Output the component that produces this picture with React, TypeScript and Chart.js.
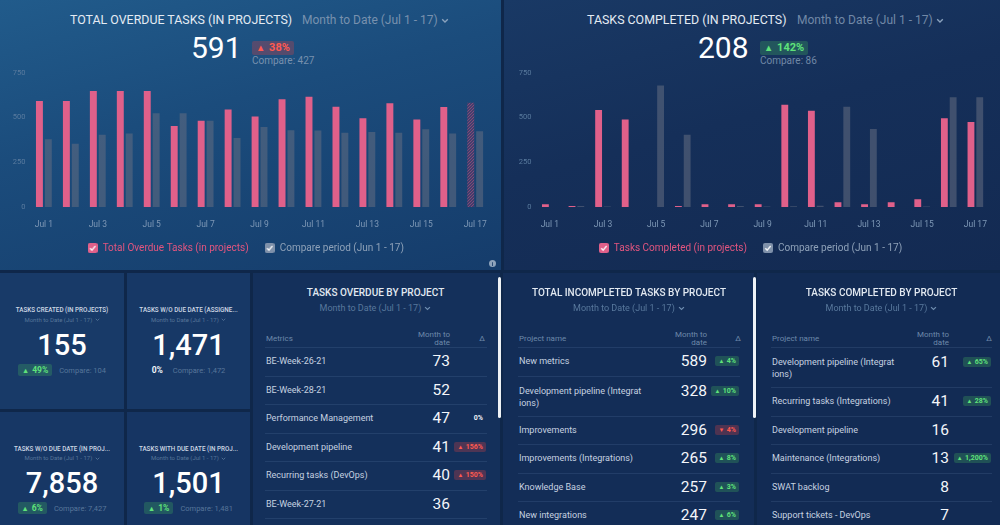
import React, { useEffect, useRef } from "react";
import { Chart, registerables } from "chart.js";

Chart.register(...registerables);

// ---------- data ----------
const days = ["Jul 1", "Jul 2", "Jul 3", "Jul 4", "Jul 5", "Jul 6", "Jul 7", "Jul 8", "Jul 9", "Jul 10", "Jul 11", "Jul 12", "Jul 13", "Jul 14", "Jul 15", "Jul 16", "Jul 17"];
const yTickValues = [0, 250, 500, 750];

const overdueCurrent = [592, 592, 648, 648, 648, 453, 481, 545, 506, 602, 615, 560, 496, 579, 489, 558, 582];
const overdueCompare = [378, 353, 404, 410, 523, 523, 481, 385, 447, 429, 427, 415, 419, 414, 434, 410, 423];
const completedCurrent = [15, 5, 541, 489, 0, 5, 15, 15, 15, 571, 537, 26, 15, 26, 43, 496, 475];
const completedCompare = [0, 5, 3, 0, 678, 404, 0, 5, 3, 4, 7, 560, 436, 0, 3, 613, 613];

const kpiTitles = ["TASKS CREATED (IN PROJECTS)", "TASKS W/O DUE DATE (ASSIGNE...", "TASKS W/O DUE DATE (IN PROJ...", "TASKS WITH DUE DATE (IN PROJ..."];
const kpiValues = ["155", "1,471", "7,858", "1,501"];
const kpiDeltas = [49, 0, 6, 1];
const kpiCompares = ["104", "1,472", "7,427", "1,481"];

const overdueProjectNames = ["BE-Week-26-21", "BE-Week-28-21", "Performance Management", "Development pipeline", "Recurring tasks (DevOps)", "BE-Week-27-21"];
const overdueProjectValues = [73, 52, 47, 41, 40, 36];
const overdueProjectDeltas: (number | null)[] = [null, null, 0, 156, 150, null];

const incompleteProjectNames = ["New metrics", "Development pipeline (Integrat\nions)", "Improvements", "Improvements (Integrations)", "Knowledge Base", "New integrations"];
const incompleteProjectValues = [589, 328, 296, 265, 257, 247];
const incompleteProjectDeltas: (number | null)[] = [4, 10, -4, 8, 3, 6];

const completedProjectNames = ["Development pipeline (Integrat\nions)", "Recurring tasks (Integrations)", "Development pipeline", "Maintenance (Integrations)", "SWAT backlog", "Support tickets - DevOps"];
const completedProjectValues = [61, 41, 16, 13, 8, 7];
const completedProjectDeltas: (number | null)[] = [65, 28, null, 1200, null, null];

// ---------- helpers ----------
const FONT = "Roboto, 'Noto Sans', sans-serif";
const PINK = "#e0608a";

function checkBox(color: string) {
  const c = document.createElement("canvas");
  c.width = 10;
  c.height = 10;
  const g = c.getContext("2d")!;
  g.fillStyle = color;
  g.beginPath();
  (g as any).roundRect(0, 0, 10, 10, 2);
  g.fill();
  g.strokeStyle = "rgba(255,255,255,0.9)";
  g.lineWidth = 1.4;
  g.beginPath();
  g.moveTo(2.3, 5.2);
  g.lineTo(4.2, 7.1);
  g.lineTo(7.7, 3);
  g.stroke();
  return c;
}

function hatch(ctx: CanvasRenderingContext2D) {
  const c = document.createElement("canvas");
  c.width = 3;
  c.height = 3;
  const g = c.getContext("2d")!;
  g.fillStyle = "rgba(95,60,105,0.6)";
  g.fillRect(0, 0, 3, 3);
  g.strokeStyle = "rgba(160,80,125,0.7)";
  g.lineWidth = 1;
  g.beginPath();
  g.moveTo(0, 3);
  g.lineTo(3, 0);
  g.stroke();
  return ctx.createPattern(c, "repeat");
}

type BarProps = {
  left: number; top: number; width: number; height: number;
  current: number[]; compare: number[];
  currentLabel: string; compareLabel: string;
  hatchLast: boolean; yWidth: number; padRight: number; gray: string;
};

function BarChart(p: BarProps) {
  const ref = useRef<HTMLCanvasElement | null>(null);
  useEffect(() => {
    const canvas = ref.current;
    if (!canvas) return;
    const ctx = canvas.getContext("2d")!;
    const pat = hatch(ctx);
    const pinkColors = p.current.map((_, i) => (p.hatchLast && i === p.current.length - 1 ? pat : PINK));
    const chart = new Chart(canvas, {
      type: "bar",
      data: {
        labels: days,
        datasets: [
          { label: p.currentLabel, data: p.current, backgroundColor: pinkColors as any, borderWidth: 0, categoryPercentage: 0.66, barPercentage: 0.78 },
          { label: p.compareLabel, data: p.compare, backgroundColor: p.gray, borderWidth: 0, categoryPercentage: 0.66, barPercentage: 0.78 },
        ],
      },
      options: {
        animation: false,
        responsive: false,
        maintainAspectRatio: false,
        devicePixelRatio: 1,
        layout: { padding: { top: 12.7, right: p.padRight, bottom: 4, left: 0 } },
        plugins: {
          tooltip: { enabled: false },
          legend: {
            position: "bottom",
            labels: {
              usePointStyle: true,
              padding: 16,
              font: { family: FONT, size: 10 },
              generateLabels: () => [
                { text: p.currentLabel, fillStyle: PINK, strokeStyle: PINK, lineWidth: 0, pointStyle: checkBox(PINK) as any, fontColor: "#e2557f", hidden: false, datasetIndex: 0 } as any,
                { text: p.compareLabel, fillStyle: "#8194ae", strokeStyle: "#8194ae", lineWidth: 0, pointStyle: checkBox("#7f91aa") as any, fontColor: "#8ea1b8", hidden: false, datasetIndex: 1 } as any,
              ],
            },
          },
        },
        scales: {
          x: {
            grid: { display: false, drawTicks: false },
            border: { display: false },
            afterFit: (s: any) => {
              s.height = 20;
            },
            ticks: {
              color: "#7e98b6",
              font: { family: FONT, size: 8.5 },
              autoSkip: false,
              maxRotation: 0,
              padding: 13,
              callback: (_v: any, i: number) => (i % 2 === 0 ? days[i] : ""),
            },
          },
          y: {
            min: 0,
            max: 750,
            afterBuildTicks: (s: any) => {
              s.ticks = yTickValues.map((v) => ({ value: v }));
            },
            afterFit: (s: any) => {
              s.width = p.yWidth;
            },
            grid: { display: false, drawTicks: false },
            border: { display: false },
            ticks: { color: "#5a7b9e", font: { family: FONT, size: 7.5 }, padding: 5 },
          },
        },
      },
    });
    return () => chart.destroy();
  }, []);
  return (
    <canvas
      ref={ref}
      width={p.width}
      height={p.height}
      style={{ position: "absolute", left: p.left, top: p.top, width: p.width, height: p.height }}
    />
  );
}

type TxtProps = {
  x: number; y: number; size: number; color: string; weight?: number;
  align?: "left" | "center" | "right"; ls?: number; lh?: number; children: React.ReactNode; pre?: boolean;
};

function Txt({ x, y, size, color, weight = 400, align = "left", ls = 0, lh, children, pre }: TxtProps) {
  const L = lh ?? Math.round(size * 1.3);
  const W = 600;
  const left = align === "left" ? x : align === "center" ? x - W / 2 : x - W;
  return (
    <div
      style={{
        position: "absolute", left, top: y - L / 2, width: W, lineHeight: `${L}px`, fontSize: size,
        color, fontWeight: weight, textAlign: align, letterSpacing: ls, whiteSpace: pre ? "pre" : "nowrap", fontFamily: FONT,
      }}
    >
      {children}
    </div>
  );
}

function Chevron({ size, color }: { size: number; color: string }) {
  return (
    <svg width={size} height={size * 0.7} viewBox="0 0 10 7" style={{ marginLeft: size * 0.45, verticalAlign: "middle" }}>
      <path d="M1.5 1.5 L5 5 L8.5 1.5" stroke={color} strokeWidth="1.7" fill="none" />
    </svg>
  );
}

function Badge({ value, good, size, h, pad }: { value: number; good: boolean; size: number; h: number; pad: number }) {
  const up = value > 0;
  return (
    <span
      style={{
        display: "inline-block", height: h, lineHeight: `${h}px`, padding: `0 ${pad}px`, borderRadius: 2, fontSize: size, fontWeight: 700,
        color: good ? "#5fe27a" : "#ff5a50", background: good ? "rgba(70,180,95,0.28)" : "rgba(215,65,70,0.3)", fontFamily: FONT,
      }}
    >
      <span style={{ fontSize: size * 0.85, marginRight: size * 0.35 }}>{up ? "▲" : "▼"}</span>
      {Math.abs(value).toLocaleString("en-US")}%
    </span>
  );
}

function Kpi({ cx, titleY, subY, numY, badgeY, i }: { cx: number; titleY: number; subY: number; numY: number; badgeY: number; i: number }) {
  const d = kpiDeltas[i];
  return (
    <>
      <Txt x={cx} y={titleY} size={6.3} color="#cfd9e5" weight={500} align="center">{kpiTitles[i]}</Txt>
      <Txt x={cx} y={subY} size={6} color="#57769a" align="center">
        Month to Date (Jul 1 - 17)<Chevron size={5} color="#57769a" />
      </Txt>
      <Txt x={cx} y={numY} size={29} color="#ffffff" weight={500} align="center" lh={34}>{kpiValues[i]}</Txt>
      <div style={{ position: "absolute", left: cx - 100, width: 200, top: badgeY - 6, height: 12, display: "flex", justifyContent: "center", alignItems: "center", gap: d === 0 ? 10 : 7, fontFamily: FONT }}>
        {d === 0 ? (
          <span style={{ fontSize: 8.5, fontWeight: 700, color: "#f2f5f9" }}>0%</span>
        ) : (
          <Badge value={d} good={true} size={8.5} h={12} pad={4} />
        )}
        <span style={{ fontSize: 7.5, color: "#57769a" }}>Compare: {kpiCompares[i]}</span>
      </div>
    </>
  );
}

type TableProps = {
  cx: number; title: string; headLabel: string; contentLeft: number; numRight: number; badgeRight: number;
  deltaX: number; lineRight: number; names: string[]; values: number[]; deltas: (number | null)[]; upGood: boolean;
};

function ProjTable(t: TableProps) {
  let y = 347;
  const rows: React.ReactNode[] = [];
  const lineStyle = (yy: number) => ({ position: "absolute" as const, left: t.contentLeft - 1, width: t.lineRight - t.contentLeft + 1, top: yy, height: 1, background: "rgba(120,150,190,0.16)" });
  rows.push(<div key="h" style={lineStyle(y)} />);
  t.names.forEach((name, i) => {
    const two = name.includes("\n");
    const h = two ? 40 : 28.5;
    const cy = two ? y + 15 : y + 14.25;
    const d = t.deltas[i];
    rows.push(
      <React.Fragment key={i}>
        <div style={{ position: "absolute", left: t.contentLeft, top: two ? y + 9 : cy - 6, lineHeight: "12px", fontSize: 9, color: "#c6d2e0", whiteSpace: "pre", fontFamily: FONT }}>{name}</div>
        <Txt x={t.numRight} y={cy} size={15.5} color="#f3f6fa" align="right" lh={18}>{t.values[i]}</Txt>
        {d !== null && (
          <div style={{ position: "absolute", left: t.badgeRight - 100, width: 100, top: cy - 5, height: 10, display: "flex", justifyContent: "flex-end", alignItems: "center" }}>
            {d === 0 ? (
              <span style={{ fontSize: 7, fontWeight: 700, color: "#eef2f7", marginRight: 3, fontFamily: FONT }}>0%</span>
            ) : (
              <Badge value={d} good={d > 0 ? t.upGood : !t.upGood} size={7} h={10} pad={3} />
            )}
          </div>
        )}
        <div style={lineStyle(y + h)} />
      </React.Fragment>
    );
    y += h;
  });
  return (
    <>
      <Txt x={t.cx} y={292} size={10} color="#e2e9f1" weight={500} align="center">{t.title}</Txt>
      <Txt x={t.cx} y={308} size={9} color="#58789c" align="center">
        Month to Date (Jul 1 - 17)<Chevron size={7} color="#6f8db0" />
      </Txt>
      <Txt x={t.contentLeft} y={339} size={8} color="#6d89aa">{t.headLabel}</Txt>
      <Txt x={t.numRight} y={335} size={8} color="#6d89aa" align="right" lh={8} pre>{"Month to\ndate"}</Txt>
      <Txt x={t.deltaX} y={339} size={8} color="#6d89aa" align="center">Δ</Txt>
      {rows}
    </>
  );
}

function Panel({ x, y, w, h, bg }: { x: number; y: number; w: number; h: number; bg: string }) {
  return <div style={{ position: "absolute", left: x, top: y, width: w, height: h, background: bg }} />;
}

export default function App() {
  return (
    <div style={{ position: "fixed", left: 0, top: 0, width: 1000, height: 525, overflow: "hidden", background: "#0f274a", fontFamily: FONT }}>
      {/* panels */}
      <Panel x={0} y={0} w={501} h={270} bg="linear-gradient(165deg, #215b8b 0%, #1b4c7c 40%, #153c6b 100%)" />
      <Panel x={504} y={0} w={496} h={270} bg="linear-gradient(165deg, #193965 0%, #152f59 45%, #132a52 100%)" />
      <Panel x={0} y={273} w={124} h={136} bg="#183a68" />
      <Panel x={127} y={273} w={123} h={136} bg="#173866" />
      <Panel x={0} y={412} w={124} h={113} bg="#173765" />
      <Panel x={127} y={412} w={123} h={113} bg="#163563" />
      <Panel x={253} y={273} w={247} h={252} bg="#14305b" />
      <Panel x={503} y={273} w={251} h={252} bg="#132d57" />
      <Panel x={757} y={273} w={243} h={252} bg="#122b54" />

      {/* top-left header */}
      <Txt x={70} y={20} size={12.4} color="#e4ebf3">TOTAL OVERDUE TASKS (IN PROJECTS)</Txt>
      <Txt x={302} y={19.5} size={12} color="#7891ae">
        Month to Date (Jul 1 - 17)<Chevron size={8} color="#8aa2bd" />
      </Txt>
      <Txt x={191} y={48} size={30} color="#ffffff" lh={34}>591</Txt>
      <div style={{ position: "absolute", left: 252, top: 36, height: 14 }}>
        <Badge value={38} good={false} size={11} h={14} pad={4} />
      </div>
      <Txt x={252} y={60.5} size={10} color="#7891ae">Compare: 427</Txt>

      {/* top-right header */}
      <Txt x={587} y={20} size={12.4} color="#e4ebf3">TASKS COMPLETED (IN PROJECTS)</Txt>
      <Txt x={797} y={19.5} size={12} color="#7188a6">
        Month to Date (Jul 1 - 17)<Chevron size={8} color="#8aa2bd" />
      </Txt>
      <Txt x={698} y={48} size={30} color="#ffffff" lh={34}>208</Txt>
      <div style={{ position: "absolute", left: 760, top: 36, height: 14 }}>
        <Badge value={142} good={true} size={11} h={14} pad={4} />
      </div>
      <Txt x={760} y={60.5} size={10} color="#7188a6">Compare: 86</Txt>

      <BarChart left={0} top={60} width={500} height={207} current={overdueCurrent} compare={overdueCompare}
        currentLabel="Total Overdue Tasks (in projects)" compareLabel="Compare period (Jun 1 - 17)" hatchLast={true} yWidth={30.4} padRight={8.5} gray="rgba(100,110,130,0.55)" />
      <BarChart left={504} top={60} width={496} height={207} current={completedCurrent} compare={completedCompare}
        currentLabel="Tasks Completed (in projects)" compareLabel="Compare period (Jun 1 - 17)" hatchLast={false} yWidth={32.5} padRight={3} gray="rgba(100,110,130,0.55)" />

      {/* info icon */}
      <div style={{ position: "absolute", left: 489, top: 260, width: 7, height: 7, borderRadius: 4, background: "#8ea3bb", color: "#1a3f6c", fontSize: 6, lineHeight: "7px", textAlign: "center", fontWeight: 700 }}>i</div>

      {/* KPI tiles */}
      <Kpi cx={62} titleY={310} subY={319.5} numY={345} badgeY={370} i={0} />
      <Kpi cx={188.5} titleY={310} subY={319.5} numY={345} badgeY={370} i={1} />
      <Kpi cx={62} titleY={448.5} subY={458} numY={483} badgeY={508} i={2} />
      <Kpi cx={188.5} titleY={448.5} subY={458} numY={483} badgeY={508} i={3} />

      {/* tables */}
      <ProjTable cx={375.5} title="TASKS OVERDUE BY PROJECT" headLabel="Metrics" contentLeft={266} numRight={450} badgeRight={486} deltaX={482}
        lineRight={487} names={overdueProjectNames} values={overdueProjectValues} deltas={overdueProjectDeltas} upGood={false} />
      <ProjTable cx={629} title="TOTAL INCOMPLETED TASKS BY PROJECT" headLabel="Project name" contentLeft={519} numRight={707} badgeRight={739} deltaX={738}
        lineRight={740} names={incompleteProjectNames} values={incompleteProjectValues} deltas={incompleteProjectDeltas} upGood={true} />
      <ProjTable cx={881.5} title="TASKS COMPLETED BY PROJECT" headLabel="Project name" contentLeft={772} numRight={949} badgeRight={991} deltaX={989}
        lineRight={992} names={completedProjectNames} values={completedProjectValues} deltas={completedProjectDeltas} upGood={true} />

      {/* scroll indicators */}
      <div style={{ position: "absolute", left: 498, top: 277, width: 3, height: 141, borderRadius: 2, background: "#eef2f6" }} />
      <div style={{ position: "absolute", left: 752.5, top: 277, width: 3, height: 141, borderRadius: 2, background: "#eef2f6" }} />
    </div>
  );
}
